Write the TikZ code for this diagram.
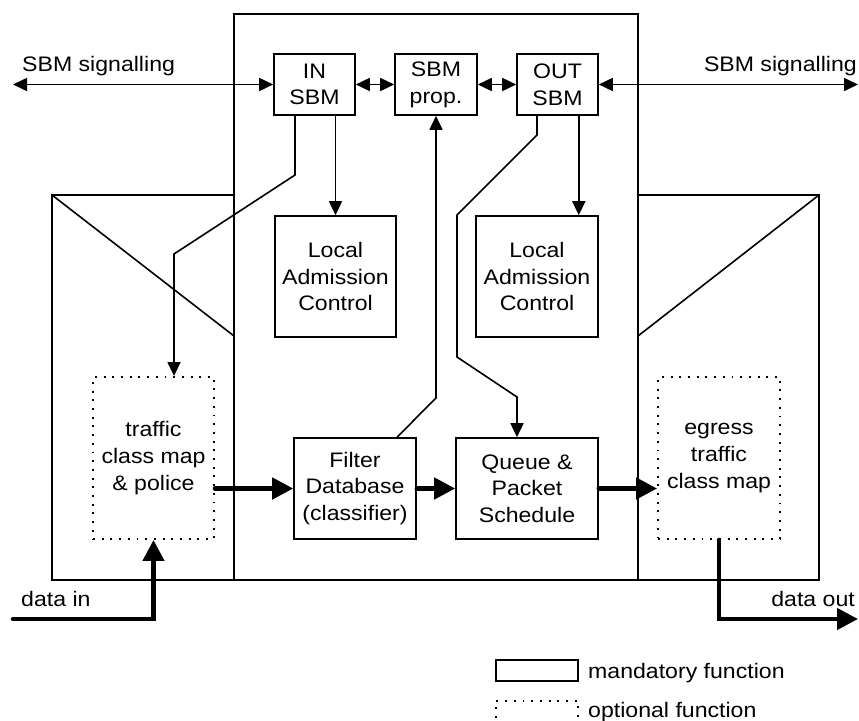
\documentclass[tikz,border=0pt]{standalone}
\usepackage{fontspec}
\setmainfont{Liberation Sans}[FakeStretch=1.1]
\usetikzlibrary{arrows.meta}

\tikzset{
  thinline/.style={line width=1.6pt},
  box/.style={draw, thinline, align=center, inner sep=0pt},
  optbox/.style={draw, line width=1.9pt, dash pattern=on 1.9pt off 6.8pt, align=center, inner sep=0pt},
  arr/.style={thinline, -{Triangle[length=14pt,width=13pt]}},
  biarr/.style={thinline, {Triangle[length=14pt,width=13pt]}-{Triangle[length=14pt,width=13pt]}},
  flow/.style={line width=4.5pt, line cap=round, line join=miter, -{Triangle[length=21pt,width=21pt]}},
  lbl/.style={inner sep=0pt}
}

\begin{document}
\begin{tikzpicture}[x=1pt, y=-1pt, font=\fontsize{21}{26.7}\selectfont]
\useasboundingbox (0,0) rectangle (859,720);

% bridge outline: upper control part and the two port sections
\draw[thinline] (234,336) -- (234,14) -- (638,14) -- (638,336);
\draw[thinline] (234,195) -- (52,195) -- (52,580) -- (819,580) -- (819,195) -- (638,195);
\draw[thinline] (52,195) -- (234,336) -- (234,580);
\draw[thinline] (819,195) -- (638,336) -- (638,580);

% SBM protocol entities
\node[box, minimum width=81pt, minimum height=61pt] (inbox)  at (314.5,84.5) {IN\\SBM};
\node[box, minimum width=82pt, minimum height=61pt] (prop)   at (436,84.5)   {SBM\\prop.};
\node[box, minimum width=81pt, minimum height=61pt] (outbox) at (557.5,84.5) {OUT\\SBM};

% admission control
\node[box, minimum width=121pt, minimum height=121pt] (lac1) at (335.5,276.5) {Local\\Admission\\Control};
\node[box, minimum width=122pt, minimum height=121pt] (lac2) at (537,276.5)   {Local\\Admission\\Control};

% data path
\node[optbox, minimum width=121pt, minimum height=162pt] (traffic) at (153.5,458) {traffic\\class map\\\& police};
\node[box, minimum width=122pt, minimum height=101pt] (filter) at (355,488.5) {Filter\\Database\\(classifier)};
\node[box, minimum width=142pt, minimum height=101pt] (queue)  at (527,488.5) {Queue \&\\Packet\\Schedule};
\node[optbox, minimum width=122pt, minimum height=162pt] (egress) at (719,458) {egress\\traffic\\class map};

% free ends and bends
\coordinate (sigL) at (13,84.5);
\coordinate (sigR) at (858,84.5);
\coordinate (b1) at (295,175);
\coordinate (b2) at (174,254);
\coordinate (f0) at (397,0);
\coordinate (f1) at (436,398);
\coordinate (q0) at (537,135);
\coordinate (q1) at (457,215);
\coordinate (q2) at (457,357);
\coordinate (q3) at (517,397);
\coordinate (din) at (13,619);
\coordinate (dout) at (858,619);

% signalling
\draw[biarr] (sigL) -- (inbox.west);
\draw[biarr] (outbox.east) -- (sigR);
\draw[biarr] (inbox.east) -- (prop.west);
\draw[biarr] (prop.east) -- (outbox.west);

% control connections
\draw[arr] (lac1.north |- inbox.south) -- (lac1.north);
\draw[arr] ([xshift=-20pt]outbox.south east) -- ([xshift=-20pt]lac2.north east);
\draw[arr] (inbox.south -| b1) -- (b1) -- (b2) -- (traffic.north -| b2);
\draw[arr] (filter.north -| f0) -- (f1) -- (prop.south);
\draw[arr] (outbox.south -| q0) -- (q0) -- (q1) -- (q2) -- (q3) -- (queue.north -| q3);

% data flow
\draw[flow] (din) -- (din -| traffic.south) -- (traffic.south);
\draw[flow] (traffic.east |- filter.west) -- (filter.west);
\draw[flow] (filter.east) -- (queue.west);
\draw[flow] (queue.east) -- (egress.west |- queue.east);
\draw[flow] (egress.south) -- (egress.south |- dout) -- (dout);

% labels
\node[lbl, anchor=base west] (sl) at (22,71) {SBM signalling};
\node[lbl, anchor=base east] (sr) at (857,71) {SBM signalling};
\node[lbl, anchor=base west] (di) at (21,606) {data in};
\node[lbl, anchor=base east] (do) at (855,606) {data out};

% legend
\node[box, minimum width=82pt, minimum height=21pt] (lgm) at (537,670.5) {};
\node[optbox, minimum width=82pt, minimum height=21pt] (lgo) at (537,711.5) {};
\node[lbl, anchor=base west] (lgmt) at (588,678) {mandatory function};
\node[lbl, anchor=base west] (lgot) at (588,717) {optional function};
\end{tikzpicture}
\end{document}
